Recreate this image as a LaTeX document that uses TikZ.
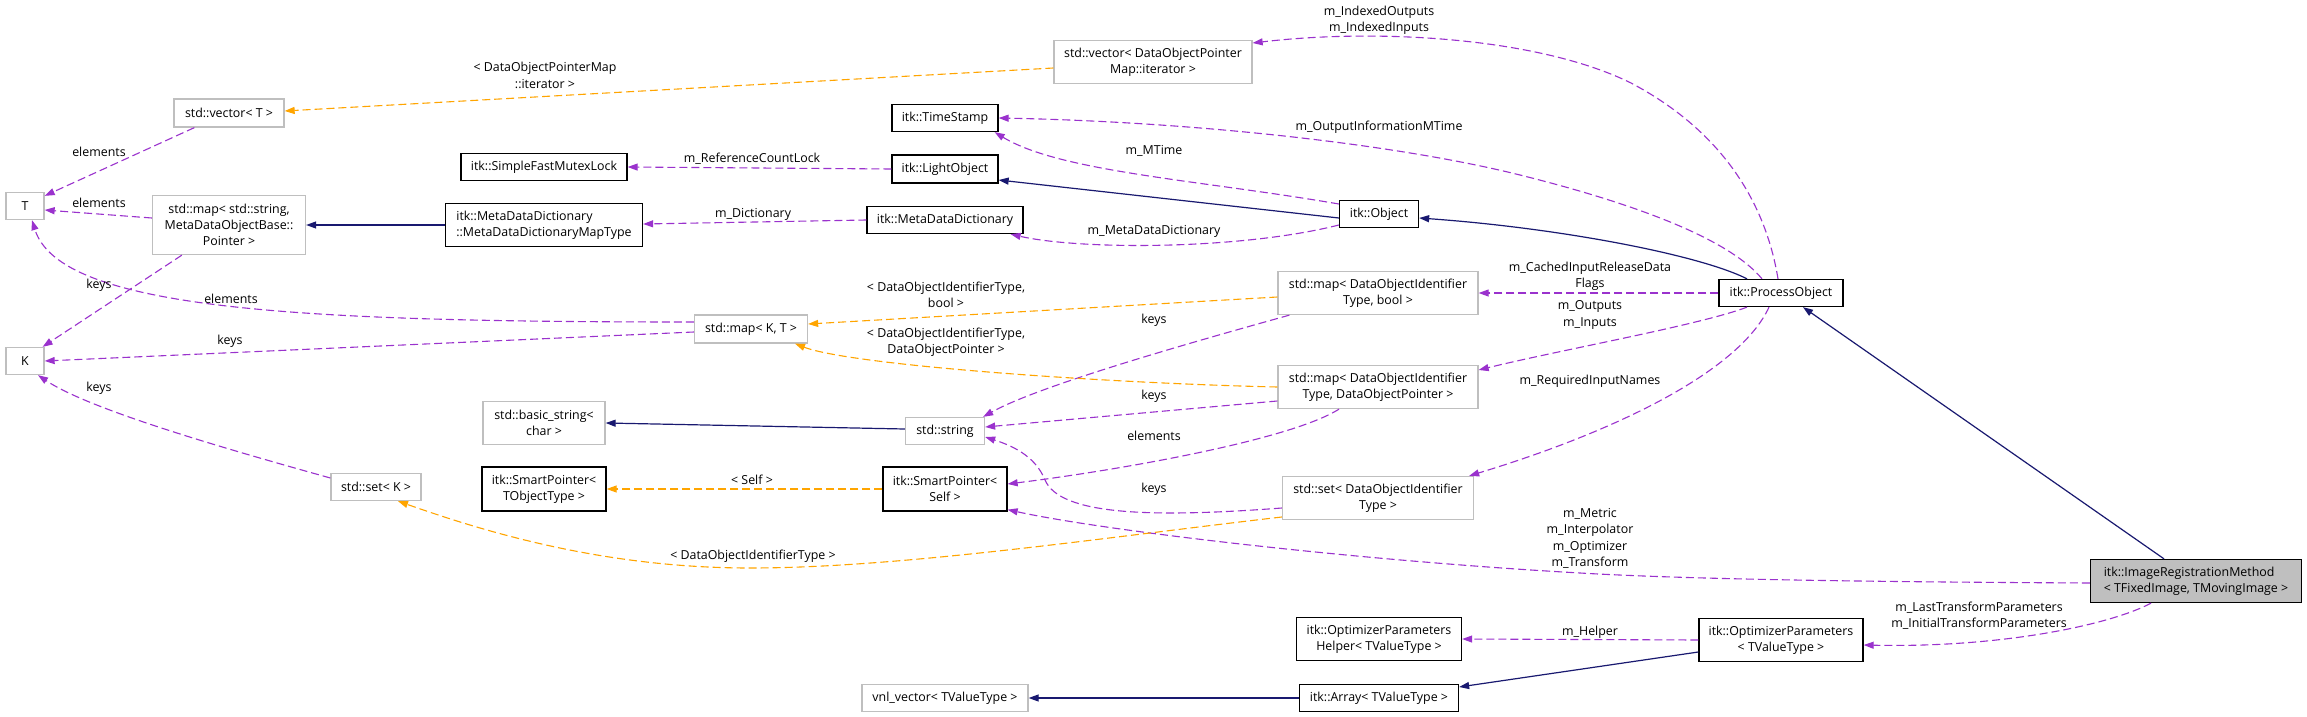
\documentclass[tikz,border=0pt]{standalone}
\usepackage{fontspec}
\setmainfont{Open Sans}
\usetikzlibrary{arrows.meta}
\definecolor{dpurple}{HTML}{9A32CD}
\definecolor{dorange}{HTML}{FFA500}
\definecolor{dnavy}{HTML}{191970}
\definecolor{dgray}{HTML}{BFBFBF}
\begin{document}
\begin{tikzpicture}[x=1pt,y=-1pt,
  font=\fontsize{12.4}{16.3}\selectfont,
  cls/.style={draw=black, line width=1.3pt, fill=white, inner sep=0pt, align=center},
  ext/.style={draw=dgray, line width=1.3pt, fill=white, inner sep=0pt, align=center},
  irmbox/.style={draw=black, line width=1.3pt, fill=dgray, inner sep=0pt, align=left},
  use/.style={draw=dpurple, dash pattern=on 8pt off 4pt, line width=1.1pt, -{Triangle[length=10pt,width=7pt]}},
  tmpl/.style={draw=dorange, dash pattern=on 8pt off 4pt, line width=1.1pt, -{Triangle[length=10pt,width=7pt]}},
  inh/.style={draw=dnavy, line width=1.2pt, -{Triangle[length=10pt,width=7pt]}},
  lbl/.style={inner sep=0pt, align=center}]
\useasboundingbox[fill=white] (0,0) rectangle (2307,717);
% nodes
\node[ext, minimum width=38pt, minimum height=27pt] (T) at (25,206) {T};
\node[ext, minimum width=38pt, minimum height=27pt] (K) at (25,361) {K};
\node[ext, minimum width=110pt, minimum height=28pt] (vecT) at (229,113) {std::vector< T >};
\node[ext, minimum width=153pt, minimum height=59pt] (mapS) at (229,225) {std::map< std::string,\\MetaDataObjectBase::\\Pointer >};
\node[cls, minimum width=166pt, minimum height=27pt] (mutex) at (544,167) {itk::SimpleFastMutexLock};
\node[cls, minimum width=197pt, minimum height=43pt, align=left] (mddMap) at (544,225) {itk::MetaDataDictionary\\::MetaDataDictionaryMapType};
\node[ext, minimum width=113pt, minimum height=28pt] (mapKT) at (751,329) {std::map< K, T >};
\node[ext, minimum width=122pt, minimum height=43pt] (basicStr) at (544,423) {std::basic\_string<\\char >};
\node[cls, minimum width=124pt, minimum height=44pt] (spT) at (544,489) {itk::SmartPointer<\\TObjectType >};
\node[ext, minimum width=90pt, minimum height=27pt] (setK) at (376,487) {std::set< K >};
\node[ext, minimum width=198pt, minimum height=43pt] (vecIter) at (1153,62) {std::vector< DataObjectPointer\\Map::iterator >};
\node[cls, minimum width=106pt, minimum height=27pt] (timeStamp) at (945,118) {itk::TimeStamp};
\node[cls, minimum width=106pt, minimum height=28pt] (lightObj) at (945,169) {itk::LightObject};
\node[cls, minimum width=156pt, minimum height=27pt] (mdd) at (945,220) {itk::MetaDataDictionary};
\node[cls, minimum width=79pt, minimum height=27pt] (object) at (1379,214) {itk::Object};
\node[ext, minimum width=200pt, minimum height=43pt] (mapBool) at (1378,293) {std::map< DataObjectIdentifier\\Type, bool >};
\node[ext, minimum width=79pt, minimum height=27pt] (string) at (945,431) {std::string};
\node[cls, minimum width=124pt, minimum height=44pt] (spSelf) at (945,489) {itk::SmartPointer<\\Self >};
\node[ext, minimum width=200pt, minimum height=43pt] (mapDOP) at (1378,387) {std::map< DataObjectIdentifier\\Type, DataObjectPointer >};
\node[ext, minimum width=191pt, minimum height=43pt] (setDOIT) at (1378,498) {std::set< DataObjectIdentifier\\Type >};
\node[cls, minimum width=165pt, minimum height=43pt] (opHelper) at (1379,639) {itk::OptimizerParameters\\Helper< TValueType >};
\node[ext, minimum width=166pt, minimum height=27pt] (vnl) at (945,698) {vnl\_vector< TValueType >};
\node[cls, minimum width=159pt, minimum height=27pt] (array) at (1379,698) {itk::Array< TValueType >};
\node[cls, minimum width=124pt, minimum height=27pt] (procObj) at (1781,293) {itk::ProcessObject};
\node[irmbox, minimum width=211pt, minimum height=43pt] (irm) at (2196,581) {itk::ImageRegistrationMethod\\< TFixedImage, TMovingImage >};
\node[cls, minimum width=164pt, minimum height=43pt] (optParams) at (1781,640) {itk::OptimizerParameters\\< TValueType >};
% edges
\draw[use] ([xshift=21pt]vecT.south west) -- ([yshift=-4pt]T.north east);
\node[lbl] (l1) at (99,152) {elements};
\draw[use] ([yshift=7pt]mapS.west) -- ([yshift=-4pt]T.east);
\node[lbl] (l2) at (99,203) {elements};
\draw[use] ([yshift=7pt]mapKT.west) .. controls (300,322) and (60,310) .. ([xshift=7pt]T.south);
\node[lbl] (l3) at (231,299) {elements};
\draw[use] ([yshift=-3pt]mapKT.west) -- (K.east);
\node[lbl] (l4) at (230,341) {keys};
\draw[use] ([xshift=30pt]mapS.south west) -- ([xshift=-2pt]K.north east);
\node[lbl] (l5) at (99,285) {keys};
\draw[use] ([yshift=9pt]setK.west) .. controls (230,450) and (90,410) .. ([xshift=13pt]K.south);
\node[lbl] (l6) at (99,388) {keys};
\draw[inh] (mddMap.west) -- (mapS.east);
\draw[use] (lightObj.west) -- (mutex.east);
\node[lbl] (l7) at (752,159) {m\_ReferenceCountLock};
\draw[use] (mdd.west) -- ([yshift=1pt]mddMap.east);
\node[lbl] (l8) at (753,214) {m\_Dictionary};
\draw[inh] ([yshift=-4pt]object.west) -- ([yshift=-11pt]lightObj.east);
\draw[use] ([yshift=10pt]object.west) .. controls (1200,180) and (1060,172) .. ([xshift=-4pt]timeStamp.south east);
\node[lbl] (l9) at (1154,151) {m\_MTime};
\draw[use] ([yshift=-11pt]object.west) .. controls (1240,250) and (1080,250) .. ([xshift=-13pt]mdd.south east);
\node[lbl] (l10) at (1154,231) {m\_MetaDataDictionary};
\draw[inh] ([xshift=-34pt]procObj.north) .. controls (1700,255) and (1560,228) .. ([yshift=-4pt]object.east);
\draw[use] ([xshift=-19pt]procObj.north) .. controls (1730,240) and (1640,205) .. (1520,175) .. controls (1400,145) and (1200,122) .. (timeStamp.east);
\node[lbl] (l11) at (1379,127) {m\_OutputInformationMTime};
\draw[use] ([xshift=-3pt]procObj.north) .. controls (1765,200) and (1720,130) .. (1631,83) .. controls (1540,38) and (1380,28) .. ([yshift=19pt]vecIter.east);
\node[lbl] (l12) at (1379,20.5) {m\_IndexedOutputs\\m\_IndexedInputs};
\draw[use] (procObj.west) -- (mapBool.east);
\node[lbl] (l13) at (1590,276.5) {m\_CachedInputReleaseData\\Flags};
\draw[use] ([xshift=-34pt]procObj.south) .. controls (1700,325) and (1560,350) .. ([yshift=17pt]mapDOP.east);
\node[lbl] (l14) at (1590,315) {m\_Outputs\\m\_Inputs};
\draw[use] ([xshift=-12pt]procObj.south) .. controls (1740,370) and (1620,430) .. ([xshift=-5pt]setDOIT.north east);
\node[lbl] (l15) at (1590,381) {m\_RequiredInputNames};
\draw[inh] ([xshift=-32pt]irm.north) -- ([xshift=22pt]procObj.south);
\draw[use] ([yshift=-2pt]irm.west) .. controls (1900,582) and (1700,580) .. (1580,573) .. controls (1350,560) and (1100,530) .. ([yshift=2pt]spSelf.south east);
\node[lbl] (l16) at (1590,538.5) {m\_Metric\\m\_Interpolator\\m\_Optimizer\\m\_Transform};
\draw[use] ([xshift=-45pt]irm.south) .. controls (2110,625) and (2000,648) .. ([yshift=-5pt]optParams.east);
\node[lbl] (l17) at (1979,616) {m\_LastTransformParameters\\m\_InitialTransformParameters};
\draw[use] (optParams.west) -- (opHelper.east);
\node[lbl] (l18) at (1590,632) {m\_Helper};
\draw[inh] ([yshift=-12pt]optParams.west) -- ([yshift=11pt]array.east);
\draw[inh] (array.west) -- (vnl.east);
\draw[inh] ([yshift=2pt]string.west) -- (basicStr.east);
\draw[tmpl] (spSelf.west) -- (spT.east);
\node[lbl] (l19) at (752,480) {< Self >};
\draw[tmpl] ([yshift=-19pt]setDOIT.west) .. controls (1100,538) and (900,568) .. (750,568) .. controls (600,568) and (480,530) .. ([xshift=22pt]setK.south);
\node[lbl] (l20) at (753,556) {< DataObjectIdentifierType >};
\draw[use] ([yshift=-10pt]setDOIT.west) .. controls (1150,518) and (1060,515) .. (1045,480) .. controls (1035,455) and (1010,445) .. ([yshift=-6pt]string.east);
\node[lbl] (l21) at (1154,489) {keys};
\draw[use] ([yshift=-14pt]mapDOP.west) -- ([yshift=4pt]string.east);
\node[lbl] (l22) at (1154,396) {keys};
\draw[use] ([xshift=12pt]mapBool.south west) .. controls (1200,340) and (1040,385) .. ([xshift=-2pt]string.north east);
\node[lbl] (l23) at (1154,320) {keys};
\draw[use] ([xshift=-39pt]mapDOP.south) .. controls (1290,440) and (1120,470) .. ([yshift=5pt]spSelf.east);
\node[lbl] (l24) at (1154,436) {elements};
\draw[tmpl] ([yshift=-4pt]mapBool.west) -- ([yshift=5pt]mapKT.east);
\node[lbl] (l25) at (946,294.5) {< DataObjectIdentifierType,\\bool >};
\draw[tmpl] (mapDOP.west) .. controls (1100,383) and (850,365) .. ([xshift=44pt]mapKT.south);
\node[lbl] (l26) at (946,342) {< DataObjectIdentifierType,\\DataObjectPointer >};
\draw[tmpl] ([yshift=-6pt]vecIter.west) -- ([yshift=2pt]vecT.east);
\node[lbl] (l27) at (545,75.5) {< DataObjectPointerMap\\::iterator >};
\end{tikzpicture}
\end{document}
